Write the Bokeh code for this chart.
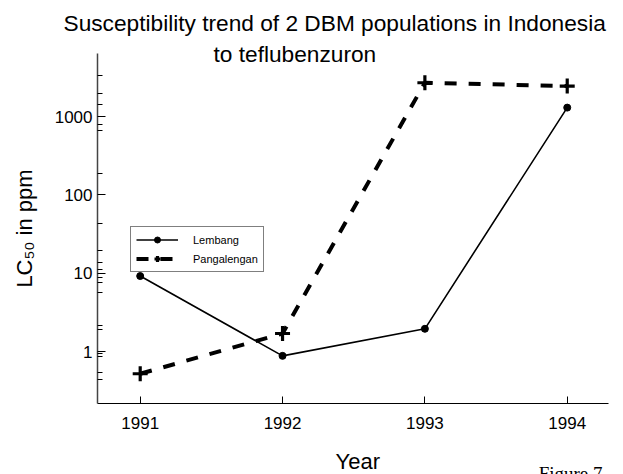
from bokeh.plotting import figure
from bokeh.models import (Legend, LegendItem, FixedTicker, NumeralTickFormatter,
                          Range1d, Title)
from bokeh.embed import file_html
from bokeh.resources import INLINE

# LC50 (ppm) by survey year for two diamondback moth populations
years = [1991, 1992, 1993, 1994]
lembang = [9.2, 0.88, 1.95, 1300]
pangalengan = [0.52, 1.7, 2700, 2450]

year_ticks = [1991, 1992, 1993, 1994]
lc50_ticks = [1, 10, 100, 1000]
minor_tick_values = [0.44, 0.54, 0.86, 0.94, 1.9, 2.15, 5.7, 7.6, 8.8, 11, 13.7,
                     19.5, 43, 190, 660, 790, 1430, 1970, 3350]

FONT = "Liberation Sans"

p = figure(width=623, height=474, y_axis_type="log",
           x_range=Range1d(1990.70, 1994.29), y_range=Range1d(0.217, 6380),
           output_backend="svg", toolbar_location=None,
           min_border_left=97, min_border_right=15,
           min_border_top=53, min_border_bottom=71)

p.outline_line_color = None
p.grid.visible = False
p.background_fill_color = "white"
p.border_fill_color = "white"

def caption(text, size, align, offset, standoff, valign="bottom", font=FONT):
    return Title(text=text, align=align, offset=offset, standoff=standoff,
                 vertical_align=valign, text_font=font, text_font_size=size,
                 text_font_style="normal", text_color="black")

# two-line heading: first line is the outer title, second line hugs the frame
p.title.text = "Susceptibility trend of 2 DBM populations in Indonesia"
p.title.align = "left"
p.title.offset = -34
p.title.vertical_align = "top"
p.title.standoff = -85
p.title.text_font = FONT
p.title.text_font_size = "22.7px"
p.title.text_font_style = "normal"
p.title.text_color = "black"

p.add_layout(caption("to teflubenzuron", "22.7px", "left", 116, -27), "above")

# axes: ticks point inward
p.xaxis.ticker = FixedTicker(ticks=year_ticks, minor_ticks=[])
p.xaxis.major_tick_in = 7
p.xaxis.major_tick_out = 0
p.xaxis.minor_tick_in = 0
p.xaxis.minor_tick_out = 0
p.xaxis.major_label_standoff = 13
p.xaxis.major_label_text_font = FONT
p.xaxis.major_label_text_font_size = "17px"
p.xaxis.major_label_text_color = "black"
p.xaxis.axis_line_color = "black"
p.xaxis.axis_line_width = 1.2

p.yaxis.ticker = FixedTicker(ticks=lc50_ticks, minor_ticks=minor_tick_values)
p.yaxis.formatter = NumeralTickFormatter(format="0")
p.yaxis.major_tick_in = 8
p.yaxis.major_tick_out = 0
p.yaxis.minor_tick_in = 5
p.yaxis.minor_tick_out = 0
p.yaxis.major_label_standoff = 5
p.yaxis.major_label_text_font = FONT
p.yaxis.major_label_text_font_size = "17px"
p.yaxis.major_label_text_color = "black"
p.yaxis.axis_line_color = "#444444"
p.yaxis.axis_line_width = 1.5
p.yaxis.axis_label = "LC\u2085\u2080 in ppm"
p.yaxis.axis_label_standoff = 15
p.yaxis.axis_label_text_font = FONT
p.yaxis.axis_label_text_font_size = "22px"
p.yaxis.axis_label_text_font_style = "normal"
p.yaxis.axis_label_text_color = "black"

# x-axis title and figure number beneath the tick labels
p.add_layout(caption("Year", "22px", "left", 238, -85), "below")
p.add_layout(caption("Figure 7", "19px", "right", 6, -104,
                     font="Liberation Serif"), "below")

# series
l_line = p.line(years, lembang, line_color="black", line_width=1.6)
l_pts = p.scatter(years, lembang, marker="circle", size=7, fill_color="black",
                  line_color="black")
g_line = p.line(years, pangalengan, line_color="black", line_width=4,
                line_dash="12 12")
g_pts = p.scatter(years, pangalengan, marker="cross", size=15, line_color="black",
                  line_width=3.2)

legend = Legend(items=[LegendItem(label="Lembang", renderers=[l_line, l_pts]),
                       LegendItem(label="Pangalengan", renderers=[g_line, g_pts])],
                location=(33, 131), orientation="vertical",
                glyph_width=42, glyph_height=15, label_height=15,
                label_standoff=15, spacing=4, padding=5, margin=0,
                label_text_font=FONT, label_text_font_size="11px",
                label_text_color="black",
                border_line_color="black", border_line_width=1.2,
                background_fill_alpha=1.0)
p.add_layout(legend)

open("out.html", "w").write(file_html(p, INLINE))
